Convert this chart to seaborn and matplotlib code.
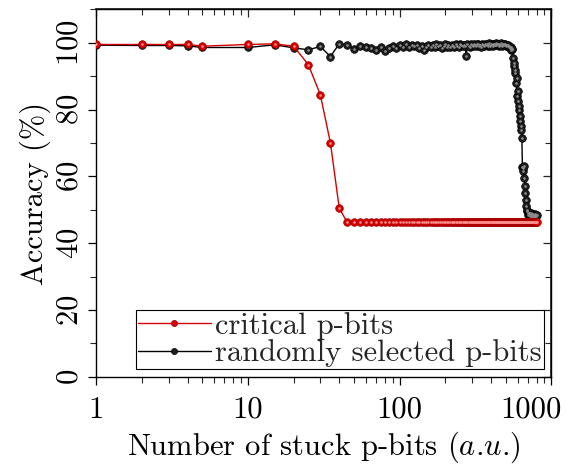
import matplotlib
matplotlib.use("Agg")
import matplotlib.pyplot as plt
import matplotlib.transforms as mtransforms
import seaborn as sns
import pandas as pd
from matplotlib.ticker import MultipleLocator, FixedLocator, NullFormatter

sns.set_theme(style="white")
plt.rcParams['font.family'] = ['cmr10', 'DejaVu Serif']
plt.rcParams['mathtext.fontset'] = 'cm'
plt.rcParams['axes.formatter.use_mathtext'] = True
plt.rcParams['axes.unicode_minus'] = False

# ---------------- data ----------------
red_x = [1, 2, 3, 4, 5, 10, 15, 20, 25, 30, 35, 40] + list(range(45, 805, 5))
red_head = [99.5, 99.5, 99.5, 99.5, 99.0, 99.5, 99.7, 99.0, 93.5, 84.5, 70.0, 50.5]
red_tail = [
    46.3, 46.3, 46.3, 46.3, 46.3, 46.3, 46.3, 46.3, 46.3, 46.3, 46.3, 46.3, 46.3, 46.3, 46.3, 46.3, 46.3, 46.3, 46.3, 46.3,
    46.3, 46.3, 46.3, 46.3, 46.3, 46.3, 46.3, 46.3, 46.3, 46.3, 46.3, 46.3, 46.3, 46.3, 46.3, 46.3, 46.3, 46.3, 46.3, 46.3,
    46.3, 46.3, 46.3, 46.3, 46.3, 46.3, 46.3, 46.3, 46.3, 46.3, 46.3, 46.3, 46.3, 46.3, 46.3, 46.3, 46.3, 46.3, 46.3, 46.3,
    46.3, 46.3, 46.3, 46.3, 46.3, 46.3, 46.3, 46.3, 46.3, 46.3, 46.3, 46.3, 46.3, 46.3, 46.3, 46.3, 46.3, 46.3, 46.3, 46.3,
    46.3, 46.3, 46.3, 46.3, 46.3, 46.3, 46.3, 46.3, 46.3, 46.3, 46.3, 46.3, 46.3, 46.3, 46.3, 46.3, 46.3, 46.3, 46.3, 46.3,
    46.3, 46.3, 46.3, 46.3, 46.3, 46.3, 46.3, 46.3, 46.3, 46.3, 46.3, 46.3, 46.3, 46.3, 46.3, 46.3, 46.3, 46.3, 46.3, 46.3,
    46.3, 46.3, 46.3, 46.3, 46.3, 46.3, 46.3, 46.3, 46.3, 46.3, 46.3, 46.3, 46.3, 46.3, 46.3, 46.3, 46.3, 46.3, 46.3, 46.3,
    46.3, 46.3, 46.3, 46.3, 46.3, 46.3, 46.3, 46.3, 46.3, 46.3, 46.3, 46.3,
]
red_y = red_head + red_tail

black_x = [1, 2, 3, 4, 5, 10, 15, 20] + list(range(25, 805, 5))
black_y = [
    99.3, 99.2, 99.2, 99.1, 98.6, 98.6, 99.4, 98.5,
    # 25 .. 100
    97.9, 98.9, 95.9, 99.7, 99.4, 98.2, 99.0, 98.6, 98.3, 97.8, 98.7, 97.6, 98.5, 98.9, 98.4, 99.3,
    # 105 .. 200
    98.8, 99.5, 98.6, 99.2, 98.9, 99.4, 98.3, 99.1, 97.9, 98.8, 99.4, 98.6, 99.2, 98.7, 99.5, 98.9, 99.3, 98.5, 99.1, 99.6,
    # 205 .. 300
    98.8, 99.3, 98.6, 99.4, 99.0, 98.7, 99.5, 99.1, 98.8, 99.6, 99.2, 98.9, 99.4, 99.0, 96.2, 99.5, 99.1, 98.8, 99.6, 99.3,
    # 305 .. 400
    99.0, 99.6, 99.2, 98.9, 99.5, 99.7, 99.1, 99.4, 98.8, 99.6, 99.3, 99.0, 99.7, 99.2, 99.5, 98.9, 99.4, 99.8, 99.1, 99.5,
    # 405 .. 500
    99.3, 99.7, 99.0, 99.6, 99.4, 99.8, 99.2, 99.5, 99.7, 99.1, 99.6, 99.3, 99.8, 99.4, 99.0, 99.6, 99.7, 99.2, 99.5, 99.3,
    # 505 .. 545
    99.1, 99.4, 98.9, 99.2, 98.7, 98.9, 98.4, 98.6, 97.8,
    # 550 .. 700
    98.2, 98.0, 95.5, 93.0, 94.0, 91.0, 92.0, 88.0, 89.5, 84.0, 85.5, 82.5, 80.0, 81.0, 78.0, 76.5,
    75.0, 74.0, 71.5, 62.8, 62.5, 61.5, 63.0, 59.5, 57.0, 55.0, 53.0, 51.0, 49.5, 50.0, 49.0,
    # 705 .. 800
    48.5, 49.0, 48.8, 48.2, 49.1, 48.6, 48.0, 48.9, 48.4, 47.8, 48.7, 48.3, 47.6, 48.5, 47.9, 48.2,
    48.6, 48.1, 48.4, 48.3,
]
assert len(red_x) == len(red_y) and len(black_x) == len(black_y)

series_names = ["critical p-bits", "randomly selected p-bits"]
xticks = [1, 10, 100, 1000]
xtick_labels = ["1", "10", "100", "1000"]
yticks = [0, 20, 40, 60, 80, 100]

df_red = pd.DataFrame({"x": red_x, "y": red_y})
df_black = pd.DataFrame({"x": black_x, "y": black_y})

# ---------------- figure ----------------
fig = plt.figure(figsize=(5.66, 4.72), dpi=100)
ax = fig.add_axes([0.170, 0.202, 0.804, 0.778])

FS = 22

sns.lineplot(data=df_black, x="x", y="y", ax=ax, color="black", lw=1.0,
             marker="o", markersize=5.5, markerfacecolor="#1e1e1e",
             markeredgecolor="black", markeredgewidth=0.5,
             label=series_names[1], zorder=2, sort=False)
sns.lineplot(data=df_red, x="x", y="y", ax=ax, color="#d40000", lw=1.0,
             marker="o", markersize=5.5, markerfacecolor="#d60000",
             markeredgecolor="#a00000", markeredgewidth=0.5,
             label=series_names[0], zorder=3, sort=False)
# specular highlights on the "balls"
ax.plot(black_x, black_y, ls="none", marker="o", markersize=0.9,
        color="#8c8c8c", zorder=2.5)
ax.plot(red_x, red_y, ls="none", marker="o", markersize=0.9,
        color="#ff8c8c", zorder=3.5)

ax.set_xscale("log")
ax.set_xlim(1, 1000)
ax.set_ylim(0, 110)
ax.set_xticks(xticks)
ax.set_xticklabels(xtick_labels)
ax.set_yticks(yticks)
ax.yaxis.set_minor_locator(MultipleLocator(10))
for lab in ax.get_yticklabels():
    lab.set_rotation(90)
    lab.set_va("center")

ax.tick_params(axis="both", which="major", direction="out", length=6, width=0.9,
               labelsize=FS, colors="black", bottom=True, left=True, pad=3)
ax.tick_params(axis="both", which="minor", direction="out", length=4, width=0.8,
               bottom=True, left=True)
ax.tick_params(axis="x", pad=8)

# keep the last x label inside the canvas
last = ax.get_xticklabels()[-1]
last.set_horizontalalignment("right")
last.set_transform(last.get_transform() +
                   mtransforms.ScaledTranslation(10 / 100, 0, fig.dpi_scale_trans))

for s in ax.spines.values():
    s.set_color("black")
    s.set_linewidth(1.0)

# top / right ticks pointing inward
secx = ax.secondary_xaxis("top")
secx.set_xticks(xticks)
secx.xaxis.set_minor_locator(FixedLocator([2, 3, 4, 5, 6, 7, 8, 9, 20, 30, 40, 50, 60, 70, 80, 90,
                                           200, 300, 400, 500, 600, 700, 800, 900]))
secx.tick_params(which="major", direction="in", length=6, width=0.9, labeltop=False)
secx.tick_params(which="minor", direction="in", length=4, width=0.8)
secx.xaxis.set_major_formatter(NullFormatter())
secy = ax.secondary_yaxis("right")
secy.set_yticks(yticks)
secy.yaxis.set_minor_locator(MultipleLocator(10))
secy.tick_params(which="major", direction="in", length=6, width=0.9, labelright=False)
secy.tick_params(which="minor", direction="in", length=4, width=0.8)
secy.yaxis.set_major_formatter(NullFormatter())

ax.set_xlabel("Number of stuck p-bits ($a$.$u$.)", fontsize=FS, color="black", labelpad=4)
ax.set_ylabel("Accuracy (%)", fontsize=FS, color="black", labelpad=4)

h, l = ax.get_legend_handles_labels()
order = [l.index(series_names[0]), l.index(series_names[1])]
leg = ax.legend([h[i] for i in order], [l[i] for i in order], loc="lower right",
                fontsize=FS, frameon=True, fancybox=False, framealpha=1,
                edgecolor="black", borderpad=0.05, handlelength=2.4,
                handletextpad=0.15, labelspacing=0.0, borderaxespad=0.25,
                markerscale=0.8)
leg.get_frame().set_linewidth(0.8)

fig.savefig("out.png", dpi=100)
